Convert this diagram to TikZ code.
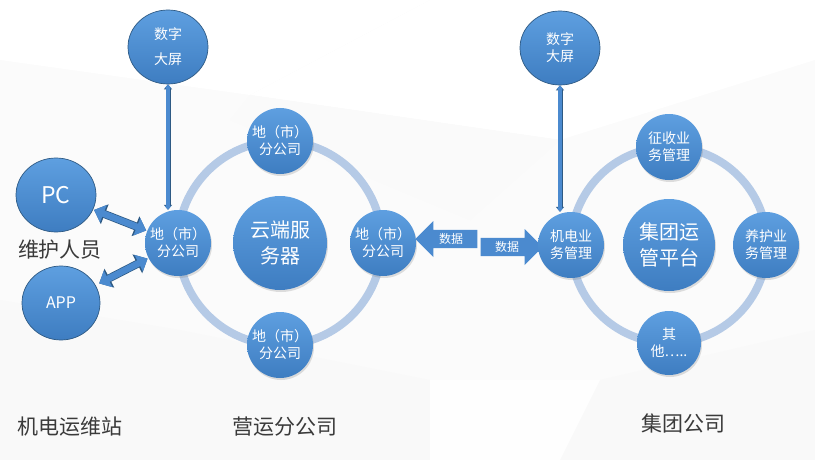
\documentclass[tikz,border=0pt]{standalone}
\usepackage{fontspec}
\setmainfont{Noto Sans CJK SC}
\usetikzlibrary{shapes.arrows,shapes.geometric,shadows,arrows.meta}
\definecolor{ctop}{HTML}{5E9FE0}
\definecolor{cbot}{HTML}{3E7DC1}
\definecolor{cblue}{HTML}{4B8ACF}
\definecolor{cedge}{HTML}{2E5A84}
\definecolor{ringc}{HTML}{B5CAE6}
\definecolor{labc}{HTML}{3A3A3A}
\newcommand\fsz[2]{\fontsize{#1}{#2}\selectfont}
\tikzset{
  ball/.style={circle, inner sep=0pt, minimum size=#1, top color=ctop, bottom color=cbot,
    text=white, align=center, font=\fsz{14pt}{17pt},
    drop shadow={opacity=0.25, shadow xshift=1pt, shadow yshift=-2pt}},
  oval/.style={ellipse, inner sep=0pt, minimum width=80pt, minimum height=74pt,
    top color=ctop, bottom color=cbot, draw=cedge, line width=0.7pt,
    text=white, align=center, font=\fsz{14pt}{17pt}},
  ringstyle/.style={circle, draw=ringc, line width=8pt, inner sep=0pt, minimum size=#1},
  fatarrow/.style={draw=cblue, line width=6.5pt,
    arrows={Triangle[width=18pt,length=10pt]-Triangle[width=18pt,length=10pt]},
    preaction={draw=cedge, line width=8pt,
      arrows={Triangle[width=20.5pt,length=11.5pt]-Triangle[width=20.5pt,length=11.5pt]}}},
  thinarrow/.style={draw=cblue, line width=3.4pt,
    arrows={Triangle[width=6.5pt,length=4pt]-Triangle[width=6.5pt,length=4pt]},
    preaction={draw=cedge, line width=5pt,
      arrows={Triangle[width=8pt,length=5pt]-Triangle[width=8pt,length=5pt]}}},
  dataarrow/.style={single arrow, fill=cblue, text=white, font=\fsz{12pt}{14pt},
    minimum height=62pt, minimum width=36pt, inner sep=2.5pt, single arrow head extend=8pt},
  lab/.style={text=labc, font=\fsz{21pt}{24pt}}
}
\begin{document}
\begin{tikzpicture}[x=1pt,y=-1pt]
\useasboundingbox (0,0) rectangle (815,460);
% background
\fill[color=white!97!gray] (0,0) rectangle (815,460);
\fill[white] (0,0) -- (430,0) -- (250,95) -- (0,60) -- cycle;
\fill[white] (430,0) -- (815,0) -- (815,60) -- (560,140) -- (250,95) -- cycle;
\fill[white!95!gray] (0,300) -- (180,330) -- (430,380) -- (430,460) -- (0,460) -- cycle;
\fill[white!95!gray] (600,380) -- (815,330) -- (815,460) -- (560,460) -- cycle;
\fill[white!99!gray] (430,380) -- (600,380) -- (560,460) -- (430,460) -- cycle;
\fill[white!96!gray] (230,120) -- (250,95) -- (560,140) -- (470,220) -- cycle;

% left section
\node[ringstyle=204pt] (ring1) at (280,243) {};
\node[ball=94pt, font=\fsz{20pt}{26pt}] (srv) at (280,243) {云端服\\务器};
\node[ball=66pt] (ln) at (178,243) {地（市）\\分公司};
\node[ball=66pt] (tn) at (280,141) {地（市）\\分公司};
\node[ball=66pt] (rn) at (383,243) {地（市）\\分公司};
\node[ball=66pt] (bn) at (280,345) {地（市）\\分公司};
\node[oval] (scr1) at (168,47) {数字\\[8pt]大屏};
\node[oval, font=\fsz{23pt}{26pt}] (pc) at (56,195) {PC};
\node[oval, font=\fsz{16pt}{19pt}, minimum width=78pt] (app) at (61,303) {APP};
\node[lab] (whry) at (60,250) {维护人员};
\draw[thinarrow] (scr1.south) -- (scr1.south |- ln.north);
\draw[fatarrow, shorten <=1pt, shorten >=1pt] (pc) -- (ln);
\draw[fatarrow, shorten <=4pt, shorten >=1pt] (app) -- (ln);
\node[lab] (l1) at (70,427) {机电运维站};
\node[lab] (l2) at (285,427) {营运分公司};

% data arrows
\node[dataarrow, shape border rotate=180] (d1) at (451,239) {数据};
\node[dataarrow] (d2) at (507,247) {数据};

% right section
\node[ringstyle=196pt] (ring2) at (669,245) {};
\node[ball=92pt, font=\fsz{20pt}{26pt}] (plat) at (669,245) {集团运\\管平台};
\node[ball=66pt] (jd) at (571,245) {机电业\\务管理};
\node[ball=66pt] (zs) at (669,147) {征收业\\务管理};
\node[ball=66pt] (yh) at (766,245) {养护业\\务管理};
\node[ball=64pt] (qt) at (669,343) {其\\他…..};
\node[oval] (scr2) at (560,48) {数字\\大屏};
\draw[thinarrow] (scr2.south) -- (scr2.south |- jd.north);
\node[lab] (l3) at (683,423) {集团公司};
\end{tikzpicture}
\end{document}
